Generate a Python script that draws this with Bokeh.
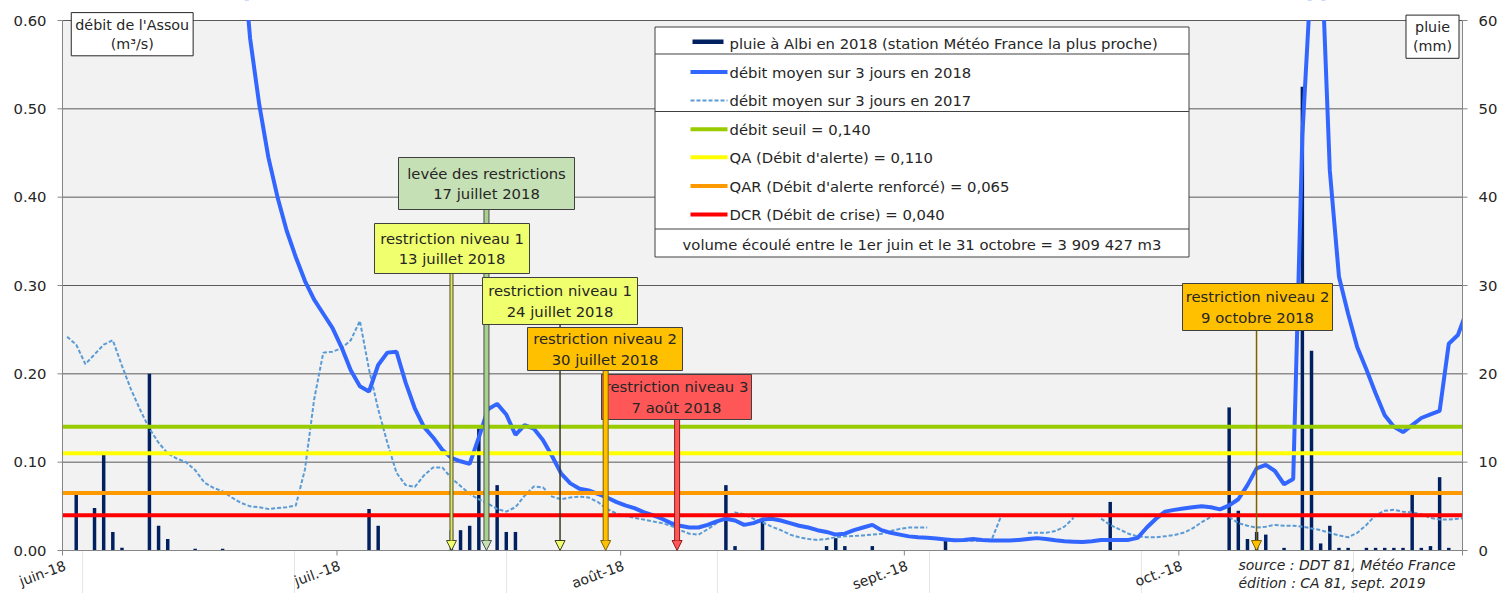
import pandas as pd
from bokeh.plotting import figure
from bokeh.models import (ColumnDataSource, Range1d, Label, Arrow, NormalHead, BoxAnnotation)
from bokeh.embed import file_html
from bokeh.resources import INLINE

NaN = float("nan")

# ---------------- data ----------------
period_start = "2018-06-01"
period_end = "2018-11-01"

# daily rain at Albi 2018 (mm), one value per day
rain_jun = [0, 6.3, 0, 4.8, 10.8, 2.1, 0.3, 0, 0, 20.0,
            2.8, 1.3, 0, 0, 0.2, 0, 0, 0.2, 0, 0,
            0, 0, 0, 0, 0, 0, 0, 0, 0, 0]
rain_jul = [0, 0, 0, 4.7, 2.8, 0, 0, 0, 0, 0,
            0, 0, 2.3, 2.3, 2.8, 13.8, 0, 7.4, 2.1, 2.1,
            0, 0, 0, 0, 0, 0, 0, 0, 0, 0, 0]
rain_aug = [0, 0, 0, 0, 0, 0, 0, 0, 0, 0,
            0, 7.4, 0.5, 0, 0, 3.7, 0, 0, 0, 0,
            0, 0, 0.5, 1.4, 0.5, 0, 0, 0.5, 0, 0, 0]
rain_sep = [0, 0, 0, 0, 1.1, 0, 0, 0, 0, 0,
            0, 0, 0, 0, 0, 0, 0, 0, 0, 0,
            0, 0, 5.5, 0, 0, 0, 0, 0, 0, 0]
rain_oct = [0, 0, 0, 0, 0, 16.2, 4.5, 1.3, 2.1, 1.8,
            0, 0.3, 0, 52.5, 22.6, 0.8, 2.8, 0.3, 0.3, 0,
            0.3, 0.3, 0.3, 0.3, 0.3, 6.3, 0.3, 0.5, 8.3, 0.3, 0]

# 3-day mean flow 2018 (m3/s)
flow2018_jun = [NaN, NaN, NaN, NaN, NaN, NaN, NaN, NaN, NaN, NaN,
                NaN, NaN, NaN, NaN, NaN, NaN, NaN, 1.05, 0.86, 0.70,
                0.58, 0.505, 0.445, 0.400, 0.362, 0.332, 0.305, 0.284, 0.268, 0.252]
flow2018_jul = [0.230, 0.204, 0.186, 0.180, 0.210, 0.224, 0.225, 0.190, 0.161, 0.140,
                0.128, 0.114, 0.105, 0.101, 0.098, 0.128, 0.160, 0.166, 0.154, 0.131,
                0.142, 0.138, 0.125, 0.107, 0.087, 0.076, 0.070, 0.068, 0.064, 0.060, 0.055]
flow2018_aug = [0.051, 0.048, 0.0435, 0.040, 0.036, 0.031, 0.028, 0.026, 0.026, 0.029,
                0.033, 0.036, 0.034, 0.029, 0.031, 0.035, 0.036, 0.034, 0.031, 0.028,
                0.026, 0.023, 0.021, 0.018, 0.019, 0.023, 0.026, 0.029, 0.023, 0.020, 0.018]
flow2018_sep = [0.016, 0.015, 0.0143, 0.0135, 0.0125, 0.0115, 0.012, 0.013, 0.012, 0.0113,
                0.0113, 0.0113, 0.012, 0.013, 0.014, 0.013, 0.0115, 0.0105, 0.010, 0.0095,
                0.0105, 0.012, 0.012, 0.012, 0.012, 0.0143, 0.026, 0.036, 0.044, 0.046]
flow2018_oct = [0.0475, 0.049, 0.050, 0.049, 0.0466, 0.051, 0.058, 0.074, 0.093, 0.097,
                0.090, 0.075, 0.081, 0.47, 0.66, 0.70, 0.43, 0.31, 0.268, 0.23,
                0.205, 0.178, 0.153, 0.140, 0.134, 0.142, 0.150, 0.154, 0.158, 0.234, 0.244]
flow2018_nov = [0.272]

# 3-day mean flow 2017 (m3/s)
flow2017_jun = [0.242, 0.233, 0.211, 0.222, 0.233, 0.238, 0.209, 0.182, 0.159, 0.138,
                0.122, 0.110, 0.104, 0.100, 0.091, 0.077, 0.071, 0.067, 0.060, 0.054,
                0.050, 0.049, 0.047, 0.048, 0.049, 0.051, 0.092, 0.171, 0.224, 0.225]
flow2017_jul = [0.229, 0.238, 0.260, 0.205, 0.160, 0.122, 0.088, 0.074, 0.072, 0.085,
                0.094, 0.094, 0.082, 0.073, 0.064, 0.058, 0.053, 0.047, 0.044, 0.049,
                0.062, 0.0725, 0.0715, 0.061, 0.058, 0.060, 0.061, 0.060, 0.055, 0.047, 0.042]
flow2017_aug = [0.039, 0.037, 0.035, 0.033, 0.031, 0.028, 0.023, 0.019, 0.018, 0.024,
                0.031, 0.038, 0.043, 0.041, 0.036, 0.032, 0.027, 0.023, 0.018, 0.015,
                0.013, 0.012, 0.013, 0.015, 0.016, 0.0165, 0.017, 0.018, 0.019, 0.022, 0.0245]
flow2017_sep = [0.026, 0.026, 0.026, NaN, NaN, NaN, 0.011, 0.011, 0.011, 0.011,
                0.037, NaN, NaN, 0.020, 0.020, 0.020, 0.022, 0.027, 0.037, NaN,
                NaN, 0.036, 0.029, 0.024, 0.019, 0.016, 0.015, 0.015, 0.016, 0.0175]
flow2017_oct = [0.020, 0.025, 0.032, 0.038, 0.041, 0.038, 0.031, 0.028, 0.026, 0.027,
                0.029, 0.028, 0.028, 0.027, 0.025, 0.023, 0.020, 0.017, 0.015, 0.020,
                0.029, 0.040, 0.045, 0.046, 0.044, 0.043, 0.041, 0.037, 0.035, 0.035, 0.036]
flow2017_nov = [0.037]

thresholds = [0.140, 0.110, 0.065, 0.040]
threshold_labels = ["débit seuil = 0,140", "QA (Débit d'alerte) = 0,110",
                    "QAR (Débit d'alerte renforcé) = 0,065", "DCR (Débit de crise) = 0,040"]
series_labels = ["pluie à Albi en 2018 (station Météo France la plus proche)",
                 "débit moyen sur 3 jours en 2018", "débit moyen sur 3 jours en 2017"]
volume_text = "volume écoulé entre le 1er juin et le 31 octobre = 3 909 427 m3"

month_ticks = ["2018-06-01", "2018-07-01", "2018-08-01", "2018-09-01", "2018-10-01", "2018-11-01"]
month_labels = ["juin-18", "juil.-18", "août-18", "sept.-18", "oct.-18"]
left_ticks = [0.0, 0.1, 0.2, 0.3, 0.4, 0.5, 0.6]
right_ticks = [0, 10, 20, 30, 40, 50, 60]

event_texts = ["levée des restrictions\n17 juillet 2018",
               "restriction niveau 1\n13 juillet 2018",
               "restriction niveau 1\n24 juillet 2018",
               "restriction niveau 3\n7 août 2018",
               "restriction niveau 2\n30 juillet 2018",
               "restriction niveau 2\n9 octobre 2018"]
event_arrow_at = ["2018-07-17 08:00", "2018-07-13 12:15", "2018-07-25 09:00",
                  "2018-08-07 04:00", "2018-07-30 08:40", "2018-10-09 11:45"]

source_text = "source : DDT 81, Météo France\nédition : CA 81, sept. 2019"

# ---------------- styles / layout ----------------
FONT = "DejaVu Sans"
TXT = "#262626"
FS = "14.8px"
C_RAIN = "#002060"
C_2018 = "#3366FF"
C_2017 = "#5B9BD5"
C_AXIS = "#868686"
C_GRID = "#5A5A5A"
threshold_colors = ["#99CC00", "#FFFF00", "#FF9900", "#FF0000"]

# callout boxes in screen px (left, right, top, bottom) and styles
event_boxes = [(398, 574, 157, 209), (374, 529, 223, 273), (482, 637, 277, 324),
               (601, 751, 374, 419), (527, 682, 327, 370), (1182, 1332, 283, 330)]
event_styles = [  # box fill, outer shaft, outer w, inner shaft, inner w
    ("#C5E0B4", "#4D4D4D", 6, "#A9D18E", 4),
    ("#F0FF6E", "#4D4D26", 4, "#DDE866", 2),
    ("#F0FF6E", "#3D3D1F", 1.5, None, 0),
    ("#FF5757", "#8C1C1C", 6, "#FF5757", 4),
    ("#FFC000", "#7F6000", 6, "#FFC000", 4),
    ("#FFC000", "#7F6000", 1.5, None, 0),
]

W, H = 1500, 593
FX0, FX1, FY0, FY1 = 62.0, 1462.0, 550.0, 20.0
YMAX = 0.6
RAIN_PER_FLOW = 100.0  # right axis 0-60 mm vs left axis 0-0.60


def ms(t):
    return (pd.Timestamp(t) - pd.Timestamp("1970-01-01")).total_seconds() * 1000.0


START_MS, END_MS = ms(period_start), ms(period_end)


def xpx(px):
    return START_MS + (px - FX0) * (END_MS - START_MS) / (FX1 - FX0)


def ypx(py):
    return (FY0 - py) * YMAX / (FY0 - FY1)


# ---------------- sources ----------------
day_centers = pd.date_range(period_start + " 12:00", periods=154, freq="D")
rain = rain_jun + rain_jul + rain_aug + rain_sep + rain_oct
flow2018 = flow2018_jun + flow2018_jul + flow2018_aug + flow2018_sep + flow2018_oct + flow2018_nov
flow2017 = flow2017_jun + flow2017_jul + flow2017_aug + flow2017_sep + flow2017_oct + flow2017_nov

src_rain = ColumnDataSource(dict(date=day_centers[:len(rain)], rain=rain))
src_flow = ColumnDataSource(dict(date=day_centers, f18=flow2018, f17=flow2017))

# ---------------- figure (frame = whole canvas, axes drawn on it) ----------------
p = figure(frame_width=W, frame_height=H, title=None, x_axis_location=None, y_axis_location=None,
           x_range=Range1d(xpx(0), xpx(W)), y_range=Range1d(ypx(H), ypx(0)),
           output_backend="svg", toolbar_location=None, min_border=0)
p.extra_y_ranges = {"rain": Range1d(ypx(H) * RAIN_PER_FLOW, ypx(0) * RAIN_PER_FLOW)}
p.background_fill_color = "white"
p.border_fill_color = "white"
p.outline_line_color = None

# plot area background
p.add_layout(BoxAnnotation(left=START_MS, right=END_MS, bottom=0, top=YMAX,
                           fill_color="#F2F2F2", fill_alpha=1, line_alpha=0, level="underlay"))
# horizontal grid lines
n = len(left_ticks)
p.segment(x0=[START_MS] * n, x1=[END_MS] * n, y0=left_ticks, y1=left_ticks,
          line_color=C_GRID, line_width=1)

# legend frame
LX0, LX1, LY0, LY1 = 654.5, 1188.5, 26.5, 256.5
p.quad(left=[xpx(LX0)], right=[xpx(LX1)], top=[ypx(LY0)], bottom=[ypx(LY1)],
       fill_color="white", line_color="#404040", line_width=1)

# rain bars
p.vbar(x="date", top="rain", width=0.38 * 86400000, source=src_rain,
       y_range_name="rain", fill_color=C_RAIN, line_color=None)
# flows
p.line(x="date", y="f17", source=src_flow, line_color=C_2017, line_width=2, line_dash="4 2")
p.line(x="date", y="f18", source=src_flow, line_color=C_2018, line_width=4)

# thresholds
for t, c in zip(thresholds, threshold_colors):
    p.segment(x0=[START_MS], x1=[END_MS], y0=[t], y1=[t], line_color=c, line_width=4)

# legend separators and symbols
sep_y = [53.5, 111, 228.5]
p.segment(x0=[xpx(LX0)] * 3, x1=[xpx(LX1)] * 3, y0=[ypx(v) for v in sep_y],
          y1=[ypx(v) for v in sep_y], line_color="#404040", line_width=1)
row_y = [42.7, 71.5, 100, 128.7, 156.7, 185.5, 214]
p.quad(left=[xpx(692)], right=[xpx(723)], top=[ypx(39)], bottom=[ypx(43.5)],
       fill_color=C_RAIN, line_color=None)
p.segment(x0=[xpx(690)], x1=[xpx(727)], y0=[ypx(row_y[1])], y1=[ypx(row_y[1])],
          line_color=C_2018, line_width=4)
p.segment(x0=[xpx(690)], x1=[xpx(727)], y0=[ypx(row_y[2])], y1=[ypx(row_y[2])],
          line_color=C_2017, line_width=2, line_dash="4 2")
for i, c in enumerate(threshold_colors):
    yy = ypx(row_y[3 + i])
    p.segment(x0=[xpx(690)], x1=[xpx(727)], y0=[yy], y1=[yy], line_color=c, line_width=4)

# white masks outside the plot area (clip lines running past the frame)
mask_l = [xpx(-50), xpx(FX1 + 0.5), xpx(-50)]
mask_r = [xpx(W + 50), xpx(W + 50), xpx(FX0 - 0.5)]
mask_b = [ypx(FY1 - 0.5), ypx(H + 50), ypx(H + 50)]
mask_t = [ypx(-50), ypx(-50), ypx(-50)]
p.quad(left=mask_l, right=mask_r, bottom=mask_b, top=mask_t,
       fill_color="white", line_color=None)

# axis lines and ticks
p.segment(x0=[START_MS, END_MS, START_MS], x1=[START_MS, END_MS, END_MS],
          y0=[0, 0, 0], y1=[YMAX, YMAX, 0], line_color=C_AXIS, line_width=1)
p.segment(x0=[xpx(FX0 - 5)] * n, x1=[START_MS] * n, y0=left_ticks, y1=left_ticks,
          line_color=C_AXIS, line_width=1)
p.segment(x0=[END_MS] * len(right_ticks), x1=[xpx(FX1 + 5)] * len(right_ticks),
          y0=right_ticks, y1=right_ticks, y_range_name="rain", line_color=C_AXIS, line_width=1)
mt = [ms(t) for t in month_ticks]
p.segment(x0=mt, x1=mt, y0=[0] * len(mt), y1=[ypx(FY0 + 5)] * len(mt),
          line_color=C_AXIS, line_width=1)

# tick labels
for t in left_ticks:
    p.add_layout(Label(x=xpx(FX0 - 16), y=t, text=f"{t:.2f}", text_align="right",
                       text_baseline="middle", text_font=FONT, text_font_size=FS,
                       text_color=TXT))
for t in right_ticks:
    p.add_layout(Label(x=xpx(FX1 + 16), y=t, y_range_name="rain", text=str(t),
                       text_align="left", text_baseline="middle", text_font=FONT,
                       text_font_size=FS, text_color=TXT))
for t, lab in zip(month_ticks, month_labels):
    p.add_layout(Label(x=ms(t), y=ypx(557), text=lab, angle=20, angle_units="deg",
                       text_align="right", text_baseline="top", text_font=FONT,
                       text_font_size="14px", text_color=TXT))

# legend texts
for lab, yv in zip(series_labels + threshold_labels, row_y):
    p.add_layout(Label(x=xpx(729), y=ypx(yv), text=lab, text_align="left",
                       text_baseline="middle", text_font=FONT, text_font_size=FS,
                       text_color=TXT))
p.add_layout(Label(x=xpx((LX0 + LX1) / 2), y=ypx(243.5), text=volume_text,
                   text_align="center", text_baseline="middle", text_font=FONT,
                   text_font_size=FS, text_color=TXT))

# ---------------- callouts ----------------
for text, at, box, st in zip(event_texts, event_arrow_at, event_boxes, event_styles):
    fill, outer, ow, inner, iw = st
    l, r, t, b = box
    xa = ms(at)
    head = NormalHead(size=10, fill_color=fill, line_color=outer, line_width=1)
    if inner is None:
        p.add_layout(Arrow(end=head, x_start=xa, y_start=ypx(b), x_end=xa, y_end=0,
                           line_color=outer, line_width=ow))
    else:
        p.add_layout(Arrow(end=None, x_start=xa, y_start=ypx(b), x_end=xa, y_end=ypx(FY0 - 9),
                           line_color=outer, line_width=ow))
        p.add_layout(Arrow(end=head, x_start=xa, y_start=ypx(b), x_end=xa, y_end=0,
                           line_color=inner, line_width=iw))
    p.add_layout(BoxAnnotation(left=xpx(l), right=xpx(r), top=ypx(t), bottom=ypx(b),
                               fill_color=fill, fill_alpha=1, line_color="#404040",
                               line_alpha=1, line_width=1))
    p.add_layout(Label(x=xpx((l + r) / 2), y=ypx((t + b) / 2), text=text,
                       text_align="center", text_baseline="middle", text_font=FONT,
                       text_font_size=FS, text_color=TXT))

# ---------------- axis title boxes ----------------
p.add_layout(Label(x=xpx(131.7), y=ypx(33.7), text="débit de l'Assou\n(m³/s)",
                   text_align="center", text_baseline="middle", text_font=FONT,
                   text_font_size="14.3px", text_color=TXT, background_fill_color="white",
                   background_fill_alpha=1, border_line_color="#262626", border_line_width=1,
                   padding=(4, 4)))
p.add_layout(Label(x=xpx(1432), y=ypx(36.2), text="pluie\n(mm)",
                   text_align="center", text_baseline="middle", text_font=FONT,
                   text_font_size="14.3px", text_color=TXT, background_fill_color="white",
                   background_fill_alpha=1, border_line_color="#262626", border_line_width=1,
                   padding=(7, 4)))

# source
p.add_layout(Label(x=xpx(1238), y=ypx(573.5), text=source_text, text_align="left",
                   text_baseline="middle", text_font=FONT, text_font_size="14px",
                   text_font_style="italic", text_color=TXT, text_line_height=1.15))

open("out.html", "w").write(file_html(p, INLINE))
